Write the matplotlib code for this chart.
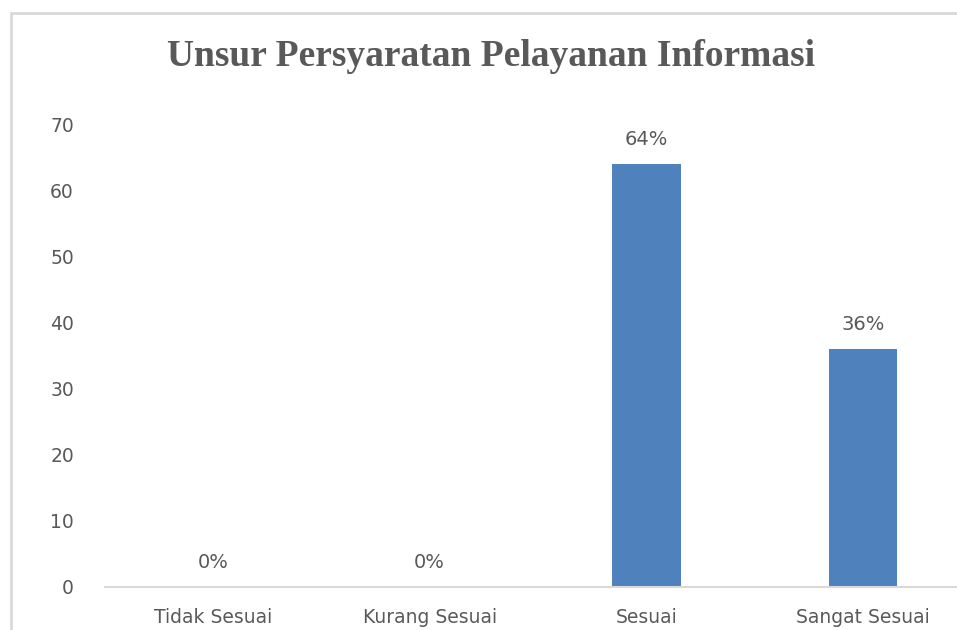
import matplotlib.pyplot as plt
from matplotlib.patches import Rectangle

kategori = ['Tidak Sesuai', 'Kurang Sesuai', 'Sesuai', 'Sangat Sesuai']
nilai = [0, 0, 64, 36]
label_persen = ['0%', '0%', '64%', '36%']
judul = 'Unsur Persyaratan Pelayanan Informasi'

abu = '#595959'
biru = '#4F81BD'

fig = plt.figure(figsize=(9.57, 6.3), dpi=100)
# bingkai chart (terpotong di kanan dan bawah)
fig.patches.append(Rectangle((11 / 957, -0.05), 1.0, 1 - 13 / 630 + 0.05,
                             transform=fig.transFigure, fill=False,
                             edgecolor='#D9D9D9', linewidth=2))

ax = fig.add_axes([104.5 / 957, 1 - 587 / 630, 867 / 957, 463 / 630])
x = range(len(kategori))
bars = ax.bar(x, nilai, width=0.315, color=biru)

ax.set_xlim(-0.5, 3.5)
ax.set_ylim(0, 70)
ax.set_yticks(range(0, 71, 10))
ax.set_xticks(list(x))
ax.set_xticklabels(kategori)

for i, b in enumerate(bars):
    ax.text(b.get_x() + b.get_width() / 2, nilai[i] + 2.2, label_persen[i],
            ha='center', va='bottom', fontsize=14, color=abu)

for s in ['top', 'right', 'left']:
    ax.spines[s].set_visible(False)
ax.spines['bottom'].set_color('#D9D9D9')
ax.spines['bottom'].set_linewidth(1.5)
ax.tick_params(axis='both', length=0, colors=abu, labelsize=13.5)
ax.tick_params(axis='y', pad=22)
ax.tick_params(axis='x', pad=15)

fig.text(491 / 957, 1 - 57 / 630, judul, ha='center', va='center',
         fontsize=27, fontweight='bold', family='Liberation Serif', color=abu)

fig.savefig('out.png', dpi=100)
